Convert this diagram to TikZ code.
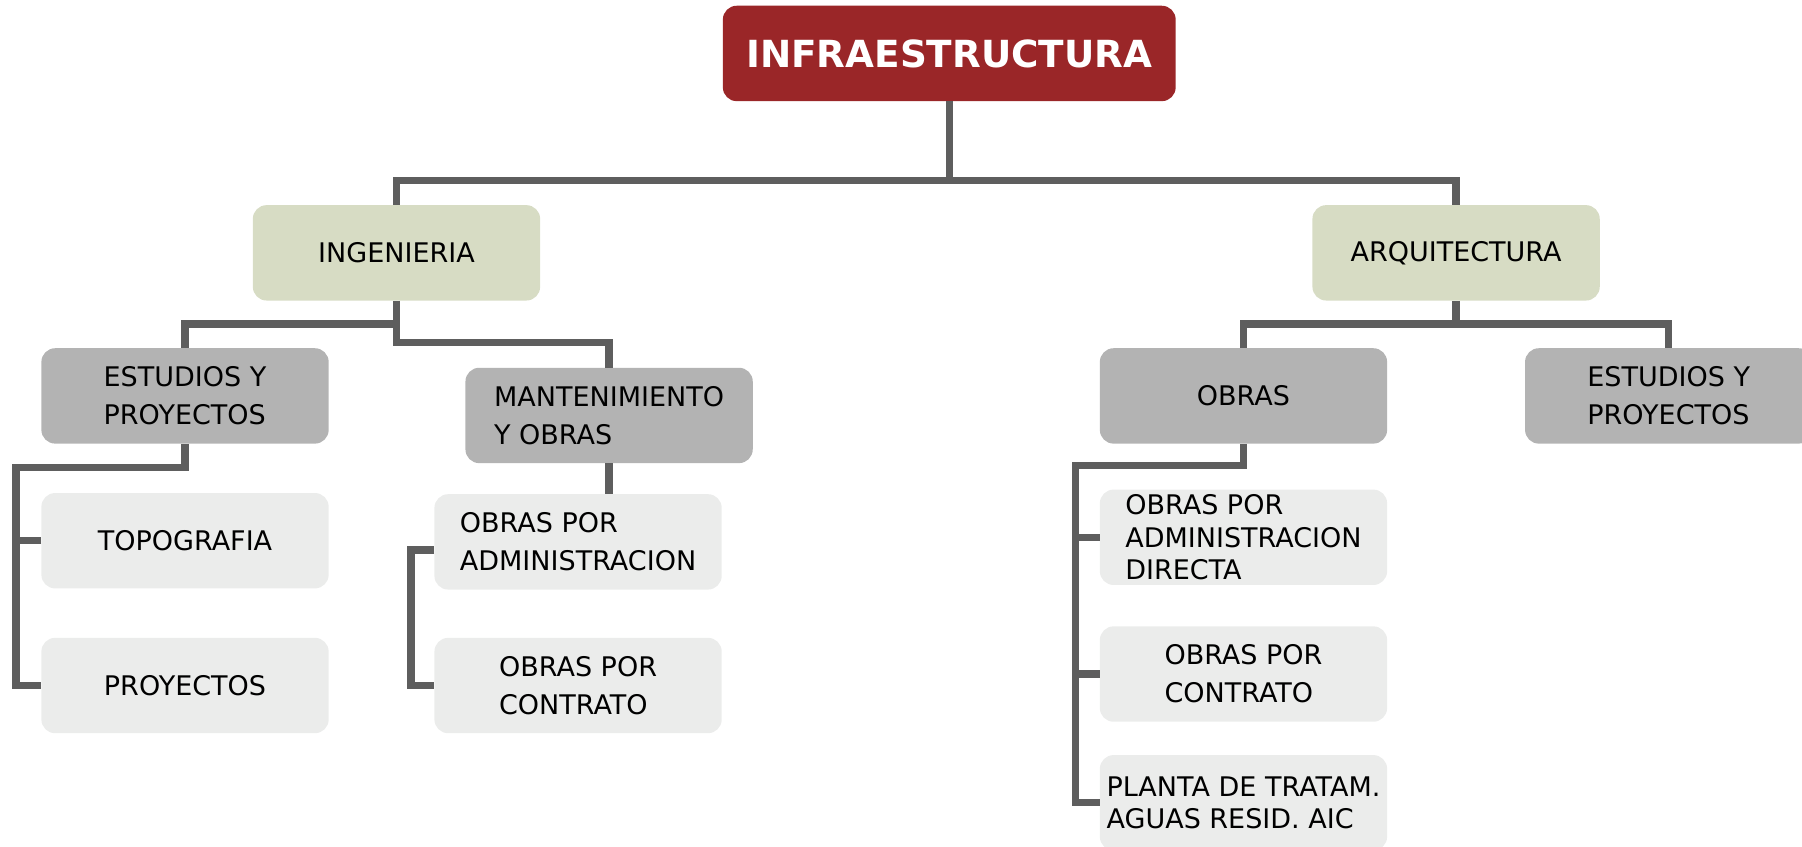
\documentclass[tikz,border=0pt]{standalone}
\usepackage{fontspec}
\setmainfont{DejaVu Sans}
\definecolor{titlecol}{RGB}{154,38,40}
\definecolor{lvonecol}{RGB}{215,220,196}
\definecolor{lvtwocol}{RGB}{179,179,179}
\definecolor{lvthreecol}{RGB}{235,236,235}
\definecolor{linecol}{RGB}{94,94,94}
\begin{document}
\begin{tikzpicture}[x=1pt,y=-1pt,
  box/.style={rounded corners=12pt, minimum width=250pt, minimum height=83pt, align=left, inner sep=0pt, font=\fontsize{23.5}{33}\selectfont, text=black},
  titlebox/.style={box, minimum width=394pt, fill=titlecol, text=white, font=\fontsize{32.5}{38}\selectfont\bfseries},
  lvone/.style={box, fill=lvonecol},
  lvtwo/.style={box, fill=lvtwocol},
  lvthree/.style={box, fill=lvthreecol},
  conn/.style={draw=linecol, line width=6.5pt}]
\useasboundingbox (0,0) rectangle (1568,737);
\clip (0,0) rectangle (1568,737);

% nodes
\node[titlebox] (root) at (826,46.5) {INFRAESTRUCTURA};
\node[lvone] (ing) at (345,220) {INGENIERIA};
\node[lvone] (arq) at (1267,220) {ARQUITECTURA};
\node[lvtwo] (estL) at (161,344.5) {ESTUDIOS Y\\PROYECTOS};
\node[lvtwo] (mant) at (530,361.5) {MANTENIMIENTO\\Y OBRAS};
\node[lvthree] (topo) at (161,470.5) {TOPOGRAFIA};
\node[lvthree] (proy) at (161,596.5) {PROYECTOS};
\node[lvthree] (admM) at (503,471.5) {OBRAS POR\\ADMINISTRACION};
\node[lvthree] (contM) at (503,596.5) {OBRAS POR\\CONTRATO};
\node[lvtwo] (obras) at (1082,344.5) {OBRAS};
\node[lvtwo] (estR) at (1452,344.5) {ESTUDIOS Y\\PROYECTOS};
\node[lvthree, font=\fontsize{23.5}{28}\selectfont] (dir) at (1082,467.5) {OBRAS POR\\ADMINISTRACION\\DIRECTA};
\node[lvthree] (contR) at (1082,586.5) {OBRAS POR\\CONTRATO};
\node[lvthree, font=\fontsize{23.5}{28}\selectfont] (planta) at (1082,698.5) {PLANTA DE TRATAM.\\AGUAS RESID. AIC};

% junctions
\coordinate (j0) at (826,157);
\coordinate (j1) at (345,282);
\coordinate (j2) at (345,298);
\coordinate (j3) at (14,407);
\coordinate (j5) at (1267,282);
\coordinate (j6) at (936,405);

% connectors
\draw[conn] (root.south) -- (j0);
\draw[conn] (ing.north) |- (j0) -| (arq.north);
\draw[conn] (ing.south) -- (j2) -| (mant.north);
\draw[conn] (j1) -| (estL.north);
\draw[conn] (estL.south) |- (j3) |- (proy.west);
\draw[conn] (topo.west) -- (topo.west -| j3);
\draw[conn] (mant.south) -- (mant.south |- admM.north);
\draw[conn] ([yshift=-7pt]admM.west) -- ++(-20,0) |- (contM.west);
\draw[conn] (arq.south) -- (j5);
\draw[conn] (obras.north) |- (j5) -| (estR.north);
\draw[conn] (obras.south) |- (j6) |- (planta.west);
\draw[conn] (dir.west) -- (dir.west -| j6);
\draw[conn] (contR.west) -- (contR.west -| j6);
\end{tikzpicture}
\end{document}
